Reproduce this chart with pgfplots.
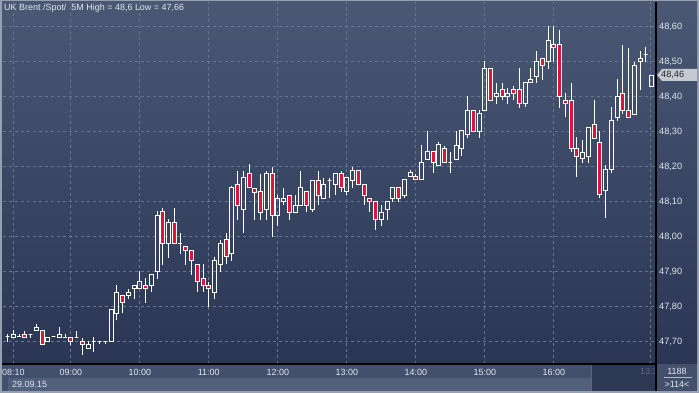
\documentclass[border=0pt]{standalone}
\usepackage{fontspec}
\setmainfont{Liberation Sans}
\usepackage{pgfplots}
\pgfplotsset{compat=1.18}
\usepackage{pgfplotstable}
\definecolor{framec}{RGB}{150,160,176}
\definecolor{bgtop}{RGB}{74,88,116}
\definecolor{bgbot}{RGB}{42,54,84}
\definecolor{gridc}{RGB}{104,118,146}
\definecolor{panel}{RGB}{66,80,108}
\definecolor{strip}{RGB}{82,96,124}
\definecolor{darkp}{RGB}{44,56,84}
\definecolor{labc}{RGB}{226,232,240}
\definecolor{candred}{RGB}{222,20,58}
\definecolor{dimtxt}{RGB}{96,108,134}
\definecolor{markbg}{RGB}{196,201,210}

\pgfplotstableread{
j O H L C
-2 47.700 47.700 47.700 47.700
-1 47.715 47.722 47.700 47.715
0 47.713 47.733 47.713 47.722
1 47.714 47.722 47.714 47.714
2 47.721 47.732 47.712 47.712
3 47.721 47.721 47.712 47.721
4 47.731 47.752 47.731 47.742
5 47.732 47.732 47.691 47.691
6 47.700 47.712 47.700 47.712
7 47.714 47.714 47.714 47.714
8 47.712 47.742 47.712 47.721
9 47.712 47.722 47.712 47.712
10 47.712 47.712 47.691 47.700
11 47.712 47.732 47.712 47.712
12 47.701 47.712 47.662 47.693
13 47.681 47.701 47.681 47.693
14 47.701 47.714 47.671 47.701
15 47.701 47.701 47.693 47.701
16 47.701 47.701 47.693 47.701
17 47.701 47.792 47.701 47.792
18 47.781 47.862 47.761 47.841
19 47.832 47.832 47.781 47.812
20 47.832 47.852 47.821 47.841
21 47.852 47.861 47.821 47.861
22 47.852 47.902 47.852 47.872
23 47.861 47.881 47.811 47.852
24 47.861 47.892 47.841 47.892
25 47.901 48.073 47.880 48.062
26 48.072 48.081 47.920 47.981
27 47.981 48.052 47.940 48.041
28 48.041 48.081 47.981 47.981
29 47.981 48.012 47.950 47.981
30 47.972 47.972 47.920 47.962
31 47.961 47.961 47.892 47.931
32 47.921 47.921 47.841 47.872
33 47.881 47.921 47.841 47.861
34 47.861 47.872 47.800 47.852
35 47.841 47.941 47.821 47.932
36 47.921 47.990 47.900 47.981
37 47.992 48.012 47.921 47.945
38 47.952 48.145 47.930 48.141
39 48.149 48.189 48.049 48.090
40 48.079 48.189 48.011 48.169
41 48.180 48.208 48.140 48.140
42 48.138 48.140 48.049 48.127
43 48.128 48.180 48.049 48.070
44 48.079 48.189 48.049 48.180
45 48.180 48.200 48.000 48.060
46 48.060 48.118 48.030 48.110
47 48.100 48.140 48.090 48.110
48 48.118 48.118 48.049 48.070
49 48.070 48.118 48.070 48.090
50 48.090 48.189 48.090 48.140
51 48.128 48.128 48.070 48.090
52 48.079 48.160 48.070 48.160
53 48.160 48.189 48.090 48.118
54 48.110 48.169 48.110 48.149
55 48.160 48.169 48.110 48.160
56 48.149 48.180 48.118 48.180
57 48.180 48.189 48.128 48.140
58 48.128 48.169 48.118 48.169
59 48.160 48.200 48.140 48.189
60 48.189 48.189 48.149 48.149
61 48.149 48.149 48.090 48.118
62 48.110 48.110 48.070 48.100
63 48.100 48.100 48.020 48.049
64 48.049 48.090 48.030 48.070
65 48.079 48.100 48.049 48.100
66 48.110 48.140 48.100 48.140
67 48.140 48.140 48.100 48.110
68 48.119 48.163 48.110 48.163
69 48.171 48.192 48.171 48.183
70 48.171 48.180 48.163 48.163
71 48.163 48.263 48.163 48.212
72 48.222 48.303 48.222 48.243
73 48.243 48.243 48.183 48.212
74 48.203 48.272 48.203 48.263
75 48.251 48.260 48.212 48.212
76 48.212 48.243 48.183 48.212
77 48.222 48.303 48.222 48.262
78 48.251 48.303 48.232 48.303
79 48.291 48.402 48.281 48.362
80 48.362 48.362 48.301 48.301
81 48.301 48.362 48.281 48.352
82 48.362 48.502 48.362 48.481
83 48.481 48.481 48.390 48.390
84 48.400 48.440 48.380 48.410
85 48.420 48.440 48.390 48.400
86 48.400 48.426 48.380 48.410
87 48.420 48.430 48.390 48.410
88 48.420 48.481 48.369 48.380
89 48.381 48.440 48.370 48.440
90 48.440 48.481 48.440 48.450
91 48.459 48.530 48.440 48.502
92 48.509 48.509 48.448 48.490
93 48.500 48.601 48.480 48.561
94 48.549 48.601 48.500 48.540
95 48.549 48.590 48.369 48.400
96 48.390 48.410 48.341 48.381
97 48.390 48.440 48.242 48.251
98 48.251 48.284 48.171 48.230
99 48.223 48.275 48.210 48.242
100 48.230 48.311 48.210 48.311
101 48.322 48.390 48.282 48.282
102 48.270 48.303 48.112 48.121
103 48.131 48.204 48.053 48.192
104 48.192 48.370 48.182 48.332
105 48.341 48.450 48.330 48.400
106 48.410 48.549 48.350 48.362
107 48.362 48.540 48.341 48.341
108 48.350 48.500 48.350 48.490
109 48.500 48.530 48.420 48.509
110 48.520 48.541 48.500 48.520
111 48.430 48.461 48.430 48.461
}\ohlc

\begin{document}
\begin{tikzpicture}
\useasboundingbox (0,0) rectangle (699bp,393bp);
\fill[framec] (0,0) rectangle (699bp,393bp);
\shade[top color=bgtop, bottom color=bgbot] (2bp,29bp) rectangle (697bp,391bp);
\fill[panel] (2bp,2bp) rectangle (697bp,29bp);
\fill[strip] (8bp,2bp) rectangle (591bp,15bp);
\fill[darkp] (591bp,2bp) rectangle (656bp,29bp);
\draw[black!60, line width=0.6bp] (591bp,2bp) -- (591bp,29bp);
\begin{scope}
\clip (591bp,2bp) rectangle (655.5bp,29bp);
\node[anchor=west, inner sep=0pt, text=dimtxt, font=\fontsize{9}{10}\selectfont] at (640bp,21.3bp) {13:30};
\end{scope}

\begin{axis}[
  at={(3bp,29bp)}, anchor=south west,
  scale only axis, width=653bp, height=362bp,
  xmin=-1.7913, xmax=111.774,
  ymin=47.6363, ymax=48.6706,
  axis line style={draw=none},
  tick style={draw=none},
  major tick length=0pt,
  xtick={0,10,22,34,46,58,70,82,94},
  xticklabels={08:10,09:00,10:00,11:00,12:00,13:00,14:00,15:00,16:00},
  extra x ticks={110.82},
  extra x tick labels={},
  ytick={47.7,47.8,47.9,48.0,48.1,48.2,48.3,48.4,48.5,48.6},
  yticklabel pos=right,
  yticklabel style={anchor=west, inner sep=0pt, xshift=3bp, text=labc,
    font=\fontsize{9.2}{10}\selectfont,
    /pgf/number format/.cd, fixed, fixed zerofill, precision=2, use comma, assume math mode=true},
  xticklabel style={anchor=center, inner sep=0pt, yshift=-8.5bp, text=labc,
    font=\fontsize{9}{10}\selectfont},
  grid=major,
  major grid style={color=gridc, line width=0.8bp, dash pattern=on 3bp off 3bp},
]
% up (hollow) candles
\addplot[scatter, only marks, mark=*, mark size=0pt, mark options={draw=none, fill=none},
  restrict expr to domain={\thisrow{C}-\thisrow{O}}{-0.0005:10},
  visualization depends on={350*(\thisrow{C}-\thisrow{O}) \as \bodyh},
  visualization depends on={350*(\thisrow{H}-\thisrow{O}) \as \hih},
  visualization depends on={350*(\thisrow{L}-\thisrow{O}) \as \loh},
  scatter/@pre marker code/.code={%
    \pgfscope
    \pgfsetlinewidth{1bp}\pgfsetstrokecolor{white}%
    \pgfpathmoveto{\pgfpoint{0pt}{\loh bp}}\pgfpathlineto{\pgfpoint{0pt}{0pt}}%
    \pgfpathmoveto{\pgfpoint{0pt}{\bodyh bp}}\pgfpathlineto{\pgfpoint{0pt}{\hih bp}}%
    \pgfusepath{stroke}%
    \pgfsetlinewidth{0.9bp}%
    \pgfpathrectanglecorners{\pgfpoint{-1.9bp}{0pt}}{\pgfpoint{1.9bp}{\bodyh bp}}%
    \pgfusepath{stroke}%
    \endpgfscope
  },
  scatter/@post marker code/.code={},
] table[x=j, y=O] {\ohlc};
% down (red) candles
\addplot[scatter, only marks, mark=*, mark size=0pt, mark options={draw=none, fill=none},
  restrict expr to domain={\thisrow{C}-\thisrow{O}}{-10:-0.0005},
  visualization depends on={350*(\thisrow{C}-\thisrow{O}) \as \bodyh},
  visualization depends on={350*(\thisrow{H}-\thisrow{O}) \as \hih},
  visualization depends on={350*(\thisrow{L}-\thisrow{O}) \as \loh},
  scatter/@pre marker code/.code={%
    \pgfscope
    \pgfsetlinewidth{1bp}\pgfsetstrokecolor{white}\pgfsetfillcolor{candred}%
    \pgfpathmoveto{\pgfpoint{0pt}{\loh bp}}\pgfpathlineto{\pgfpoint{0pt}{\hih bp}}%
    \pgfusepath{stroke}%
    \pgfsetlinewidth{0.9bp}%
    \pgfpathrectanglecorners{\pgfpoint{-1.9bp}{0pt}}{\pgfpoint{1.9bp}{\bodyh bp}}%
    \pgfusepath{fill,stroke}%
    \endpgfscope
  },
  scatter/@post marker code/.code={},
] table[x=j, y=O] {\ohlc};
\end{axis}

\draw[black, line width=1.2bp] (656bp,2bp) -- (656bp,391bp);
\draw[black, line width=1.2bp] (2bp,29bp) -- (656bp,29bp);
\node[anchor=west, inner sep=0pt, text=labc, font=\fontsize{9}{10}\selectfont] at (4bp,385bp)
  {UK Brent /Spot/\ \ 5M High = 48,6 Low = 47,66};
\node[anchor=west, inner sep=0pt, text=labc, font=\fontsize{9}{10}\selectfont] at (12bp,9bp) {29.09.15};
\fill[markbg] (657bp,318bp) -- (662bp,324bp) -- (697bp,324bp) -- (697bp,312bp) -- (662bp,312bp) -- cycle;
\node[anchor=west, inner sep=0pt, text=black!85, font=\fontsize{9.2}{10}\selectfont] at (661bp,318bp) {48,46};
\node[text=labc, inner sep=0pt, font=\fontsize{9}{10}\selectfont] at (677bp,21.5bp) {1188};
\draw[labc!70!panel, line width=0.6bp] (664bp,15.5bp) -- (692bp,15.5bp);
\node[text=labc, inner sep=0pt, font=\fontsize{9}{10}\selectfont] at (677bp,9bp) {>114<};
\end{tikzpicture}
\end{document}
